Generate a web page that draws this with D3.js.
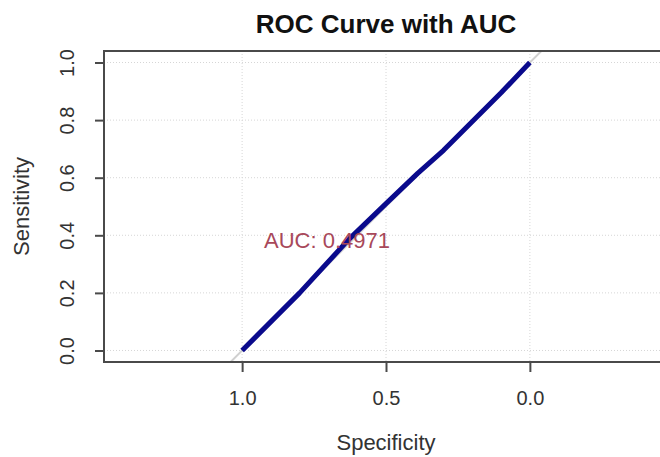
<!DOCTYPE html>
<meta charset="utf-8">
<head>
	<style>
		body {
			margin: 0;
			background: white;
			font-family: "Liberation Sans", Arial, sans-serif;
		}
	</style>
	<script src="https://cdn.jsdelivr.net/npm/d3@7"></script>
</head>
<body>
	<svg id="roc"></svg>
</body>
<script>

	// ROC points
	let specificity = [1, 0.8, 0.63, 0.5, 0.39, 0.3, 0.2, 0.1, 0]
	let sensitivity = [0, 0.2, 0.385, 0.51, 0.615, 0.695, 0.795, 0.895, 1]
	let xTicks = [1.0, 0.5, 0.0]
	let yTicks = [0, 0.2, 0.4, 0.6, 0.8, 1.0]
	let aucLabel = "AUC: 0.4971"
	let title = "ROC Curve with AUC"

	function getConfig() {
		let width = 660
		let height = 457
		// plot box, asp = 1 so x range is wider than 0..1
		let box = { left: 104, right: 668, top: 51, bottom: 362 }
		let container = d3.select("#roc")
			.attr("width", width)
			.attr("height", height)
		return { width, height, box, container }
	}

	function getScales(config) {
		let { box } = config
		let xScale = d3.scaleLinear()
			.domain([1.48, -0.48])
			.range([box.left, box.right])
		let yScale = d3.scaleLinear()
			.domain([-0.04, 1.04])
			.range([box.bottom, box.top])
		return { xScale, yScale }
	}

	function drawGrid(scales, config) {
		let { xScale, yScale } = scales
		let { container, box } = config
		let grid = container.append("g")

		grid.selectAll(".vgrid")
			.data(xTicks)
			.enter()
			.append("line")
			.attr("x1", d => xScale(d))
			.attr("x2", d => xScale(d))
			.attr("y1", box.top)
			.attr("y2", box.bottom)
			.attr("stroke", "#d6d6d6")
			.attr("stroke-width", 1)
			.attr("stroke-dasharray", "1,2")

		grid.selectAll(".hgrid")
			.data(yTicks)
			.enter()
			.append("line")
			.attr("x1", box.left)
			.attr("x2", box.right)
			.attr("y1", d => yScale(d))
			.attr("y2", d => yScale(d))
			.attr("stroke", "#d6d6d6")
			.attr("stroke-width", 1)
			.attr("stroke-dasharray", "1,2")
	}

	function drawCurve(scales, config) {
		let { xScale, yScale } = scales
		let { container, box } = config

		container.append("clipPath")
			.attr("id", "clip")
			.append("rect")
			.attr("x", box.left)
			.attr("y", box.top)
			.attr("width", box.right - box.left)
			.attr("height", box.bottom - box.top)

		// identity line, clipped to the box
		container.append("line")
			.attr("clip-path", "url(#clip)")
			.attr("x1", xScale(1.1))
			.attr("y1", yScale(-0.1))
			.attr("x2", xScale(-0.1))
			.attr("y2", yScale(1.1))
			.attr("stroke", "#d0d0d0")
			.attr("stroke-width", 2)

		let points = specificity.map((s, i) => [s, sensitivity[i]])
		let line = d3.line()
			.x(d => xScale(d[0]))
			.y(d => yScale(d[1]))

		container.append("path")
			.datum(points)
			.attr("d", line)
			.attr("fill", "none")
			.attr("stroke", "#0a0a8c")
			.attr("stroke-width", 5)
			.attr("stroke-linejoin", "round")

		container.append("text")
			.attr("x", xScale(0.705))
			.attr("y", yScale(0.383) + 8)
			.attr("text-anchor", "middle")
			.attr("font-size", "22px")
			.attr("fill", "#a8485a")
			.text(aucLabel)
	}

	function drawAxes(scales, config) {
		let { xScale, yScale } = scales
		let { container, box } = config

		// box
		container.append("rect")
			.attr("x", box.left)
			.attr("y", box.top)
			.attr("width", box.right - box.left)
			.attr("height", box.bottom - box.top)
			.attr("fill", "none")
			.attr("stroke", "#4a4a4a")
			.attr("stroke-width", 2)

		let axisX = d3.axisBottom(xScale)
			.tickValues(xTicks)
			.tickFormat(d3.format(".1f"))
			.tickSize(10)
			.tickPadding(19)
		let gx = container.append("g")
			.attr("transform", `translate(0,${box.bottom})`)
			.call(axisX)
		gx.select(".domain").remove()
		gx.selectAll("line").attr("stroke", "#4a4a4a").attr("stroke-width", 2)
		gx.selectAll("text")
			.attr("font-size", "20px")
			.attr("font-family", "Liberation Sans, Arial, sans-serif")
			.attr("fill", "#333")

		let axisY = d3.axisLeft(yScale)
			.tickValues(yTicks)
			.tickFormat(d3.format(".1f"))
			.tickSize(9)
		let gy = container.append("g")
			.attr("transform", `translate(${box.left},0)`)
			.call(axisY)
		gy.select(".domain").remove()
		gy.selectAll("line").attr("stroke", "#4a4a4a").attr("stroke-width", 2)
		gy.selectAll(".tick text")
			.attr("font-size", "20px")
			.attr("font-family", "Liberation Sans, Arial, sans-serif")
			.attr("fill", "#333")
			.attr("text-anchor", "middle")
			.attr("x", 0)
			.attr("y", 0)
			.attr("transform", "translate(-37,0) rotate(-90)")
			.attr("dy", "0.35em")

		container.append("text")
			.attr("x", (xScale(1) + xScale(0)) / 2)
			.attr("y", 450)
			.attr("text-anchor", "middle")
			.attr("font-size", "22px")
			.attr("fill", "#333")
			.text("Specificity")

		container.append("text")
			.attr("transform", `translate(29,${(yScale(0) + yScale(1)) / 2}) rotate(-90)`)
			.attr("text-anchor", "middle")
			.attr("font-size", "22px")
			.attr("fill", "#333")
			.text("Sensitivity")

		container.append("text")
			.attr("x", (xScale(1) + xScale(0)) / 2)
			.attr("y", 33)
			.attr("text-anchor", "middle")
			.attr("font-size", "26px")
			.attr("font-weight", "bold")
			.attr("fill", "#111")
			.text(title)
	}

	let config = getConfig()
	let scales = getScales(config)
	drawGrid(scales, config)
	drawCurve(scales, config)
	drawAxes(scales, config)

</script>
